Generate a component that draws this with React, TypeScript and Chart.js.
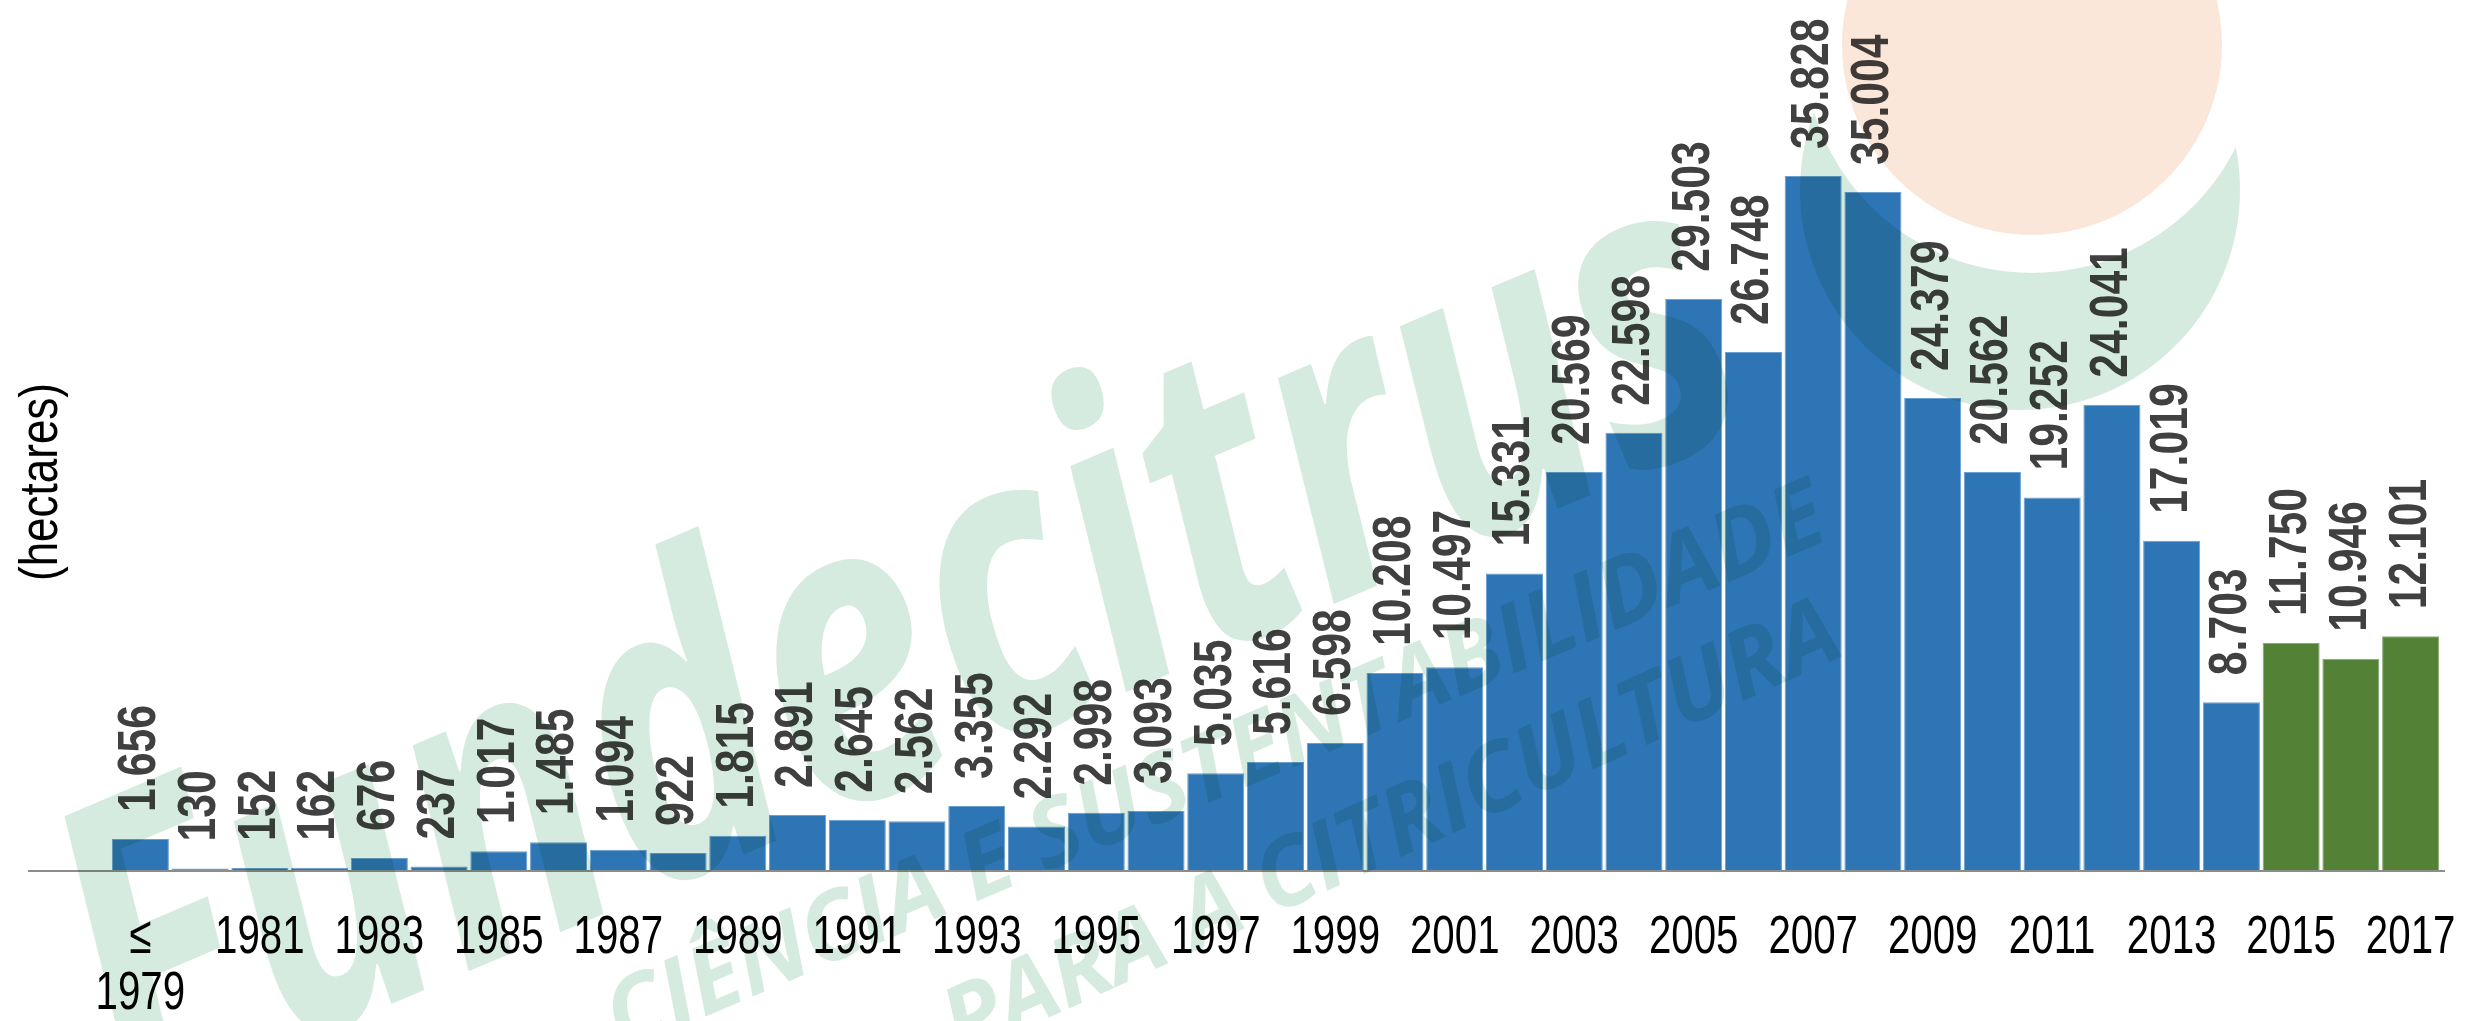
import React, { useEffect, useRef } from 'react';
import { Chart, registerables } from 'chart.js';

Chart.register(...registerables);

// ---- data ----
const categories: string[] = [
  '≤1979', '1980', '1981', '1982', '1983', '1984', '1985', '1986', '1987', '1988',
  '1989', '1990', '1991', '1992', '1993', '1994', '1995', '1996', '1997', '1998',
  '1999', '2000', '2001', '2002', '2003', '2004', '2005', '2006', '2007', '2008',
  '2009', '2010', '2011', '2012', '2013', '2014', '2015', '2016', '2017',
];
const hectares: number[] = [
  1656, 130, 152, 162, 676, 237, 1017, 1485, 1094, 922,
  1815, 2891, 2645, 2562, 3355, 2292, 2998, 3093, 5035, 5616,
  6598, 10208, 10497, 15331, 20569, 22598, 29503, 26748, 35828, 35004,
  24379, 20562, 19252, 24041, 17019, 8703, 11750, 10946, 12101,
];
const highlightFrom = '2015';
const yAxisTitle = '(hectares)';
const watermarkMain = 'Fundecitrus';
const watermarkLine1 = 'CIÊNCIA E SUSTENTABILIDADE';
const watermarkLine2 = 'PARA A CITRICULTURA';

const BLUE = '#2E75B6';
const BLUE_EDGE = '#6A9FD0';
const GREEN = '#538135';
const GREEN_EDGE = '#8BA878';
const SANS = "'Liberation Sans', Arial, sans-serif";

const fmt = (v: number) => String(v).replace(/\B(?=(\d{3})+(?!\d))/g, '.');
const isHighlight = (i: number) => Number(categories[i].replace('≤', '')) >= Number(highlightFrom);
const tickLines = (i: number): string[] => {
  if (i % 2 === 1) return [];
  const lab = categories[i];
  if (lab.startsWith('≤')) return ['≤', lab.slice(1)];
  return [lab];
};

const valueLabels = {
  id: 'valueLabels',
  afterDatasetsDraw(chart: any) {
    const { ctx } = chart;
    const meta = chart.getDatasetMeta(0);
    ctx.save();
    ctx.font = `bold 54px ${SANS}`;
    ctx.fillStyle = '#404040';
    ctx.textAlign = 'left';
    ctx.textBaseline = 'middle';
    meta.data.forEach((el: any, i: number) => {
      ctx.save();
      ctx.translate(el.x, el.y - 27);
      ctx.rotate(-Math.PI / 2);
      ctx.scale(0.79, 1);
      ctx.fillText(fmt(hectares[i]), 0, 0);
      ctx.restore();
    });
    ctx.restore();
  },
};

const xLabels = {
  id: 'xLabels',
  afterDatasetsDraw(chart: any) {
    const { ctx } = chart;
    const xs = chart.scales.x;
    const y0 = chart.chartArea.bottom + 67;
    ctx.save();
    ctx.font = `53px ${SANS}`;
    ctx.fillStyle = '#000';
    ctx.textAlign = 'center';
    ctx.textBaseline = 'middle';
    categories.forEach((_c, i) => {
      const lines = tickLines(i);
      const x = xs.getPixelForValue(i);
      lines.forEach((t, k) => {
        ctx.save();
        ctx.translate(x, y0 + k * 56);
        ctx.scale(0.76, 1);
        ctx.fillText(t, 0, 0);
        ctx.restore();
      });
    });
    ctx.restore();
  },
};

const baseline = {
  id: 'baseline',
  afterDatasetsDraw(chart: any) {
    const { ctx } = chart;
    const y = chart.scales.y.getPixelForValue(0);
    ctx.save();
    ctx.strokeStyle = '#8C8C8C';
    ctx.lineWidth = 2;
    ctx.beginPath();
    ctx.moveTo(28, y);
    ctx.lineTo(2445, y);
    ctx.stroke();
    ctx.restore();
  },
};

const yTitle = {
  id: 'yTitle',
  afterDraw(chart: any) {
    const { ctx } = chart;
    ctx.save();
    ctx.font = `53px ${SANS}`;
    ctx.fillStyle = '#000';
    ctx.textAlign = 'center';
    ctx.textBaseline = 'middle';
    ctx.translate(42, 482);
    ctx.rotate(-Math.PI / 2);
    ctx.scale(0.83, 1);
    ctx.fillText(yAxisTitle, 0, 0);
    ctx.restore();
  },
};

const fitText = (c: CanvasRenderingContext2D, text: string, weight: string, family: string, width: number) => {
  c.font = `${weight} 100px ${family}`;
  const w = c.measureText(text).width;
  const size = (100 * width) / w;
  c.font = `${weight} ${size}px ${family}`;
};

const watermark = {
  id: 'watermark',
  afterDraw(chart: any) {
    const { ctx, canvas } = chart;
    const off = document.createElement('canvas');
    off.width = canvas.width;
    off.height = canvas.height;
    const c = off.getContext('2d') as CanvasRenderingContext2D;
    const green = '#D6EBDF';
    const orange = '#FBE7D9';
    // green crescent below the orange circle
    c.fillStyle = green;
    c.beginPath();
    c.arc(2020, 190, 220, 0, Math.PI * 2);
    c.fill();
    c.globalCompositeOperation = 'destination-out';
    c.beginPath();
    c.arc(2032, 45, 228, 0, Math.PI * 2);
    c.fill();
    c.globalCompositeOperation = 'source-over';
    c.fillStyle = orange;
    c.beginPath();
    c.arc(2032, 45, 190, 0, Math.PI * 2);
    c.fill();
    // main word
    const fam = "'Open Sans', 'Liberation Sans', sans-serif";
    const ang = (-23 * Math.PI) / 180;
    c.fillStyle = green;
    c.save();
    c.translate(130, 1115);
    c.rotate(ang);
    c.scale(1, 1.32);
    fitText(c, watermarkMain, 'italic bold', fam, 1780);
    c.textBaseline = 'alphabetic';
    c.fillText(watermarkMain, 0, 0);
    c.restore();
    c.save();
    c.translate(622, 1052);
    c.rotate(ang);
    fitText(c, watermarkLine1, 'italic bold', fam, 1315);
    c.fillText(watermarkLine1, 0, 0);
    c.restore();
    c.save();
    c.translate(960, 1058);
    c.rotate((-24.5 * Math.PI) / 180);
    fitText(c, watermarkLine2, 'italic bold', fam, 975);
    c.fillText(watermarkLine2, 0, 0);
    c.restore();

    ctx.save();
    ctx.setTransform(1, 0, 0, 1, 0, 0);
    ctx.globalCompositeOperation = 'multiply';
    ctx.drawImage(off, 0, 0);
    ctx.restore();
  },
};

export default function App() {
  const ref = useRef<HTMLCanvasElement | null>(null);
  useEffect(() => {
    document.body.style.margin = '0';
    document.body.style.overflow = 'hidden';
    const canvas = ref.current;
    if (!canvas) return;
    const chart = new Chart(canvas, {
      type: 'bar',
      data: {
        labels: categories,
        datasets: [
          {
            data: hectares,
            backgroundColor: categories.map((_, i) => (isHighlight(i) ? GREEN : BLUE)),
            borderColor: categories.map((_, i) => (isHighlight(i) ? GREEN_EDGE : BLUE_EDGE)),
            borderWidth: 1,
            barPercentage: 0.955,
            categoryPercentage: 1,
          },
        ],
      },
      options: {
        animation: false,
        responsive: true,
        maintainAspectRatio: false,
        layout: { padding: { left: 110.5, right: 25.5, top: 0, bottom: 150 } },
        plugins: { legend: { display: false }, tooltip: { enabled: false } },
        scales: {
          x: { display: false, offset: true },
          y: { display: false, min: 0, max: 44900 },
        },
      },
      plugins: [valueLabels, xLabels, baseline, yTitle, watermark],
    });
    return () => chart.destroy();
  }, []);
  return (
    <div style={{ position: 'relative', width: '2466px', height: '1021px' }}>
      <canvas ref={ref} />
    </div>
  );
}
